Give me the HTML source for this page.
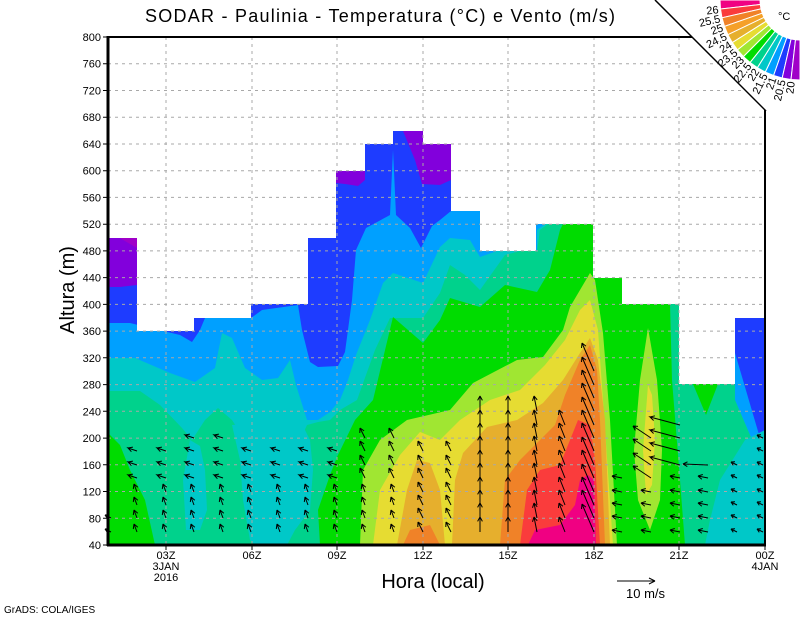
<!DOCTYPE html>
<html><head><meta charset="utf-8"><style>
html,body{margin:0;padding:0;background:#fff;}
svg{display:block;}
text{font-family:"Liberation Sans",sans-serif;}
</style></head><body>
<svg width="800" height="618" viewBox="0 0 800 618" xmlns="http://www.w3.org/2000/svg" xmlns:xlink="http://www.w3.org/1999/xlink">
<defs>
<path id="aS" d="M0,0 L-3,-8 l-0.7,5 M-3,-8 l3.8,3.3"/>
<path id="aL" d="M0,0 L-9,-3 l3.4,3.7 M-9,-3 l4.9,-0.9"/>
<path id="aU" d="M0,0 L-5,-10 l-0.2,5 M-5,-10 l4.1,2.9"/>
<path id="aV" d="M0,0 L0,-15 l-2.4,4.4 M0,-15 l2.4,4.4"/>
<path id="aV2" d="M0,0 L-3,-15 l-1.5,4.8 M-3,-15 l3.2,3.8"/>
<path id="aV3" d="M0,0 L-6,-15 l-0.6,5 M-6,-15 l3.9,3.2"/>
<path id="aN" d="M0,0 L-12,-28 l-0.5,5 M-12,-28 l3.9,3.1"/>
<path id="aW" d="M0,0 L-10,-2 l3.8,3.2 M-10,-2 l4.8,-1.5"/>
<path id="aW2" d="M0,0 L-18,-12 l2.3,4.4 M-18,-12 l5,0.4"/>
<path id="aW3" d="M0,0 L-30,-8 l3.6,3.5 M-30,-8 l4.9,-1.2"/>
<path id="aW4" d="M0,0 L-25,-1 l4.3,2.6 M-25,-1 l4.5,-2.2"/>
<path id="aW5" d="M0,0 L-6,-3 l2.3,3.3 M-6,-3 l4,-0.2"/>
<g id="lowS"><use href="#aS" y="532"/><use href="#aS" y="518"/><use href="#aS" y="505"/><use href="#aS" y="492"/></g>
<g id="c1"><use href="#lowS"/><use href="#aL" y="478"/><use href="#aL" y="465"/><use href="#aL" y="451"/></g>
<g id="c2"><use href="#c1"/><use href="#aL" y="438"/></g>
<g id="c3"><use href="#lowS"/><use href="#aU" y="478"/><use href="#aU" y="465"/><use href="#aU" y="451"/><use href="#aU" y="438"/></g>
<g id="c4"><use href="#aU" y="532"/><use href="#aU" y="518"/><use href="#aU" y="505"/><use href="#aU" y="492"/><use href="#aU" y="478"/><use href="#aU" y="465"/><use href="#aU" y="451"/></g>
<g id="c5"><use href="#aV" y="532"/><use href="#aV" y="518"/><use href="#aV" y="505"/><use href="#aV" y="492"/><use href="#aV" y="478"/><use href="#aV" y="465"/><use href="#aV" y="451"/><use href="#aV" y="438"/><use href="#aV" y="425"/><use href="#aV" y="411"/></g>
<g id="lowW"><use href="#aW" y="532"/><use href="#aW" y="518"/><use href="#aW" y="505"/><use href="#aW" y="492"/></g>
</defs>
<rect width="800" height="618" fill="#fff"/>
<rect x="108" y="37" width="657" height="508" fill="#1e3cff"/>
<path fill="#00a0ff" d="M108,323 L130,323 L180,335 L192,342 L200,330 L205,318 L251,318 L262,310 L298,305 L302,330 L310,362 L318,367 L338,366 L345,352 L352,300 L356,250 L366,228 L390,215 L393,150 L396,215 L410,228 L421,248 L432,226 L440,220 L451,211 L545,211 L545,224 L765,224 L765,545 L108,545 Z"/>
<path fill="#1e3cff" d="M735,300 L765,300 L765,455 L735,353 Z"/>
<path fill="#00c8c8" d="M108,358 L135,358 L170,373 L195,382 L215,368 L222,333 L232,338 L245,368 L262,380 L278,378 L290,360 L296,385 L307,420 L318,420 L330,412 L340,400 L348,380 L356,355 L370,320 L383,283 L393,273 L423,283 L440,247 L450,238 L470,240 L480,257 L500,250 L537,251 L537,230 L545,224 L765,224 L765,300 L735,300 L735,400 L765,470 L765,545 L108,545 Z"/>
<path fill="#00d28c" d="M108,391 L140,391 L160,405 L182,428 L192,440 L205,420 L218,408 L232,420 L245,440 L300,440 L307,425 L318,422 L330,420 L340,410 L357,400 L375,350 L390,318 L423,318 L440,293 L450,265 L465,275 L480,290 L505,255 L520,251 L537,251 L540,230 L548,224 L679,224 L679,384 L735,384 L735,545 L108,545 Z"/>
<path fill="#00d28c" d="M735,400 L765,470 L765,545 L735,545 Z"/>
<path fill="#00c8c8" d="M190,440 L200,446 L205,470 L207,510 L200,530 L186,530 L183,480 Z"/>
<path fill="#00c8c8" d="M232,425 L240,460 L243,500 L250,540 L255,545 L287,545 L295,530 L310,510 L313,470 L310,440 L300,420 Z"/>
<path fill="#00c8c8" d="M765,430 L745,440 L720,480 L710,520 L705,545 L765,545 Z"/>
<path fill="#00dc00" d="M108,433 L120,445 L130,470 L145,500 L155,545 L108,545 Z"/>
<path fill="#00dc00" d="M320,545 L318,510 L330,475 L337,457 L355,420 L373,400 L393,317 L423,343 L440,320 L450,298 L480,307 L505,285 L537,292 L550,270 L560,230 L563,224 L593,224 L593,278 L622,278 L622,304 L670,304 L672,380 L676,430 L680,480 L685,545 Z"/>
<path fill="#00dc00" d="M693,384 L718,384 L706,415 Z"/>
<path fill="#a0e632" d="M360,545 L363,470 L380,440 L407,420 L450,410 L473,383 L517,360 L543,357 L563,330 L570,307 L590,273 L595,280 L603,333 L610,420 L617,545 Z"/>
<path fill="#a0e632" d="M648,328 L640,380 L634,450 L638,500 L650,530 L660,500 L662,450 L657,380 Z"/>
<path fill="#e6dc32" d="M648,385 L643,450 L646,495 L652,485 L655,440 L652,395 Z"/>
<path fill="#e6dc32" d="M373,545 L380,490 L400,455 L420,432 L440,440 L460,420 L490,400 L520,390 L545,365 L565,340 L580,310 L590,300 L598,330 L603,400 L613,545 Z"/>
<path fill="#e6af2d" d="M397,545 L407,490 L417,460 L430,463 L440,490 L445,545 L452,545 L455,480 L463,453 L487,427 L517,420 L543,403 L563,380 L580,353 L590,338 L598,360 L605,420 L610,545 Z"/>
<path fill="#f08228" d="M500,545 L505,480 L520,460 L540,440 L555,425 L565,395 L580,360 L590,345 L597,370 L600,420 L605,545 Z"/>
<path fill="#f08228" d="M403,545 L410,530 L430,525 L440,545 Z"/>
<path fill="#fa3c3c" d="M520,545 L527,490 L540,470 L560,465 L570,440 L578,420 L590,425 L595,460 L600,545 Z"/>
<path fill="#f00082" d="M528,545 L535,530 L560,525 L575,505 L580,480 L588,475 L594,480 L596,545 Z"/>
<path fill="#8200dc" d="M108,237 L137,237 L137,285 L120,287 L108,287 Z"/>
<path fill="#a000c8" d="M118,237 L137,237 L137,248 Z"/>
<path fill="#8200dc" d="M336,171 L365,171 L365,180 L358,186 L345,184 L336,183 Z"/>
<path fill="#8200dc" d="M403,131 L423,131 L423,144 L451,144 L451,180 L440,185 L422,184 L415,160 Z"/>
<path fill="#fff" d="M108,37 L765,37 L765,318 L735,318 L735,384 L679,384 L679,304 L622,304 L622,278 L593,278 L593,224 L536,224 L536,251 L480,251 L480,211 L451,211 L451,144 L423,144 L423,131 L393,131 L393,144 L365,144 L365,171 L336,171 L336,238 L308,238 L308,304 L251,304 L251,318 L194,318 L194,331 L137,331 L137,238 L108,238 Z"/>
<g stroke="#a8a8a8" stroke-width="1" stroke-dasharray="3,4">
<path d="M108,518.3H765M108,491.5H765M108,464.8H765M108,438.1H765M108,411.3H765M108,384.6H765M108,357.8H765M108,331.1H765M108,304.4H765M108,277.6H765M108,250.9H765M108,224.2H765M108,197.4H765M108,170.7H765M108,144H765M108,117.2H765M108,90.5H765M108,63.7H765"/>
<path d="M166,37V545M252,37V545M337,37V545M423,37V545M508,37V545M594,37V545M679,37V545"/>
</g>
<g stroke="#000" stroke-width="1" fill="none">
<use href="#aW5" x="111" y="532"/><use href="#aW5" x="111" y="518"/>
<use href="#c1" x="137"/><use href="#c1" x="166"/><use href="#c2" x="194"/><use href="#c2" x="223"/>
<use href="#c1" x="251"/><use href="#c1" x="280"/><use href="#c1" x="308"/><use href="#c1" x="337"/>
<use href="#c3" x="365"/><use href="#c3" x="394"/><use href="#c4" x="423"/><use href="#c4" x="451"/>
<use href="#c5" x="480"/><use href="#c5" x="508"/>
<g transform="translate(537,0)"><use href="#aV2" y="532"/><use href="#aV2" y="518"/><use href="#aV2" y="505"/><use href="#aV2" y="492"/><use href="#aV2" y="478"/><use href="#aV2" y="465"/><use href="#aV2" y="451"/><use href="#aV2" y="438"/><use href="#aV2" y="425"/><use href="#aV2" y="411"/></g>
<g transform="translate(565,0)"><use href="#aV3" y="532"/><use href="#aV3" y="518"/><use href="#aV3" y="505"/><use href="#aV3" y="492"/><use href="#aV3" y="478"/><use href="#aV3" y="465"/><use href="#aV3" y="451"/><use href="#aV3" y="438"/><use href="#aV3" y="425"/></g>
<g transform="translate(594,0)"><use href="#aN" y="532"/><use href="#aN" y="518"/><use href="#aN" y="505"/><use href="#aN" y="492"/><use href="#aN" y="478"/><use href="#aN" y="465"/><use href="#aN" y="451"/><use href="#aN" y="438"/><use href="#aN" y="425"/><use href="#aN" y="411"/><use href="#aN" y="398"/><use href="#aN" y="385"/><use href="#aN" y="371"/></g>
<g transform="translate(622,0)"><use href="#lowW"/><use href="#aW" y="478"/></g>
<g transform="translate(651,0)"><use href="#lowW"/><use href="#aW2" y="478"/><use href="#aW2" y="465"/><use href="#aW2" y="451"/><use href="#aW2" y="438"/></g>
<g transform="translate(680,0)"><use href="#lowW"/><use href="#aW" y="478"/><use href="#aW3" y="465"/><use href="#aW3" y="451"/><use href="#aW3" y="438"/><use href="#aW3" y="425"/></g>
<g transform="translate(708,0)"><use href="#lowW"/><use href="#aW" y="478"/><use href="#aW4" y="465"/></g>
<g transform="translate(737,0)"><use href="#aW5" y="532"/><use href="#aW5" y="518"/><use href="#aW5" y="505"/><use href="#aW5" y="492"/><use href="#aW5" y="478"/><use href="#aW5" y="465"/></g>
<g transform="translate(763,0)"><use href="#aW5" y="532"/><use href="#aW5" y="518"/><use href="#aW5" y="505"/><use href="#aW5" y="492"/><use href="#aW5" y="478"/><use href="#aW5" y="465"/><use href="#aW5" y="451"/><use href="#aW5" y="438"/></g>
</g>
<polygon points="655,0 800,0 800,145" fill="#fff"/>
<g stroke="#fff" stroke-width="1">
<polygon fill="#f00082" points="760,0 720,0 720.5,9 760.3,4.5"/>
<polygon fill="#fa3c3c" points="760.3,4.5 720.5,9 722,17.8 761,8.9"/>
<polygon fill="#f08228" points="761,8.9 722,17.8 724.5,26.4 762.2,13.2"/>
<polygon fill="#f5a028" points="762.2,13.2 724.5,26.4 727.9,34.7 764,17.4"/>
<polygon fill="#e6af2d" points="764,17.4 727.9,34.7 732.3,42.6 766.1,21.3"/>
<polygon fill="#e6dc32" points="766.1,21.3 732.3,42.6 737.5,49.9 768.7,24.9"/>
<polygon fill="#a0e632" points="768.7,24.9 737.5,49.9 743.4,56.6 771.7,28.3"/>
<polygon fill="#00dc00" points="771.7,28.3 743.4,56.6 750.1,62.5 775.1,31.3"/>
<polygon fill="#00d28c" points="775.1,31.3 750.1,62.5 757.4,67.7 778.7,33.9"/>
<polygon fill="#00c8c8" points="778.7,33.9 757.4,67.7 765.3,72.1 782.6,36"/>
<polygon fill="#00a0ff" points="782.6,36 765.3,72.1 773.6,75.5 786.8,37.8"/>
<polygon fill="#1e3cff" points="786.8,37.8 773.6,75.5 782.2,78 791.1,39"/>
<polygon fill="#8200dc" points="791.1,39 782.2,78 791,79.5 795.5,39.7"/>
<polygon fill="#a000c8" points="795.5,39.7 791,79.5 800,80 800,40"/>
</g>
<g font-size="11" text-anchor="end">
<text transform="translate(718.5,9.2) rotate(-6.43) translate(0,4)">26</text>
<text transform="translate(720,18.2) rotate(-12.86) translate(0,4)">25.5</text>
<text transform="translate(722.6,27.1) rotate(-19.29) translate(0,4)">25</text>
<text transform="translate(726.1,35.6) rotate(-25.71) translate(0,4)">24.5</text>
<text transform="translate(730.6,43.6) rotate(-32.14) translate(0,4)">24</text>
<text transform="translate(735.9,51.1) rotate(-38.57) translate(0,4)">23.5</text>
<text transform="translate(742,58) rotate(-45) translate(0,4)">23</text>
<text transform="translate(748.9,64.1) rotate(-51.43) translate(0,4)">22.5</text>
<text transform="translate(756.4,69.4) rotate(-57.86) translate(0,4)">22</text>
<text transform="translate(764.4,73.9) rotate(-64.29) translate(0,4)">21.5</text>
<text transform="translate(772.9,77.4) rotate(-70.71) translate(0,4)">21</text>
<text transform="translate(781.8,79.9) rotate(-77.14) translate(0,4)">20.5</text>
<text transform="translate(790.8,81.5) rotate(-83.57) translate(0,4)">20</text>
</g>
<text x="778" y="20" font-size="11">°C</text>
<g stroke="#000" fill="none">
<line x1="108" y1="37" x2="692" y2="37" stroke-width="2"/>
<line x1="108" y1="36" x2="108" y2="546" stroke-width="3"/>
<line x1="107" y1="545" x2="766" y2="545" stroke-width="3"/>
<line x1="765" y1="110" x2="765" y2="546" stroke-width="2"/>
<line x1="655" y1="0" x2="766" y2="111" stroke-width="1.5"/>
<path stroke-width="1" d="M103,545H108M103,518.3H108M103,491.5H108M103,464.8H108M103,438.1H108M103,411.3H108M103,384.6H108M103,357.8H108M103,331.1H108M103,304.4H108M103,277.6H108M103,250.9H108M103,224.2H108M103,197.4H108M103,170.7H108M103,144H108M103,117.2H108M103,90.5H108M103,63.7H108M103,37H108M166,545V550M252,545V550M337,545V550M423,545V550M508,545V550M594,545V550M679,545V550M765,545V550"/>
</g>
<g font-size="11" text-anchor="end">
<text x="101" y="549">40</text><text x="101" y="522.3">80</text><text x="101" y="495.5">120</text><text x="101" y="468.8">160</text><text x="101" y="442.1">200</text><text x="101" y="415.3">240</text><text x="101" y="388.6">280</text><text x="101" y="361.8">320</text><text x="101" y="335.1">360</text><text x="101" y="308.4">400</text><text x="101" y="281.6">440</text><text x="101" y="254.9">480</text><text x="101" y="228.2">520</text><text x="101" y="201.4">560</text><text x="101" y="174.7">600</text><text x="101" y="148">640</text><text x="101" y="121.2">680</text><text x="101" y="94.5">720</text><text x="101" y="67.7">760</text><text x="101" y="41">800</text>
</g>
<text x="380" y="22" font-size="18" text-anchor="middle" textLength="470" lengthAdjust="spacing">SODAR - Paulinia - Temperatura (°C) e Vento (m/s)</text>
<text transform="translate(74,290) rotate(-90)" font-size="20" text-anchor="middle">Altura (m)</text>
<text x="433" y="588" font-size="20" text-anchor="middle">Hora (local)</text>
<g font-size="11" text-anchor="middle">
<text x="166" y="559">03Z</text><text x="166" y="570">3JAN</text><text x="166" y="581">2016</text>
<text x="252" y="559">06Z</text><text x="337" y="559">09Z</text><text x="423" y="559">12Z</text>
<text x="508" y="559">15Z</text><text x="594" y="559">18Z</text><text x="679" y="559">21Z</text>
<text x="765" y="559">00Z</text><text x="765" y="570">4JAN</text>
</g>
<g stroke="#000"><line x1="617" y1="581" x2="655" y2="581"/><line x1="655" y1="581" x2="649" y2="578"/><line x1="655" y1="581" x2="649" y2="584"/></g>
<text x="626" y="598" font-size="13">10 m/s</text>
<text x="4" y="613" font-size="10">GrADS: COLA/IGES</text>
</svg>
</body></html>
